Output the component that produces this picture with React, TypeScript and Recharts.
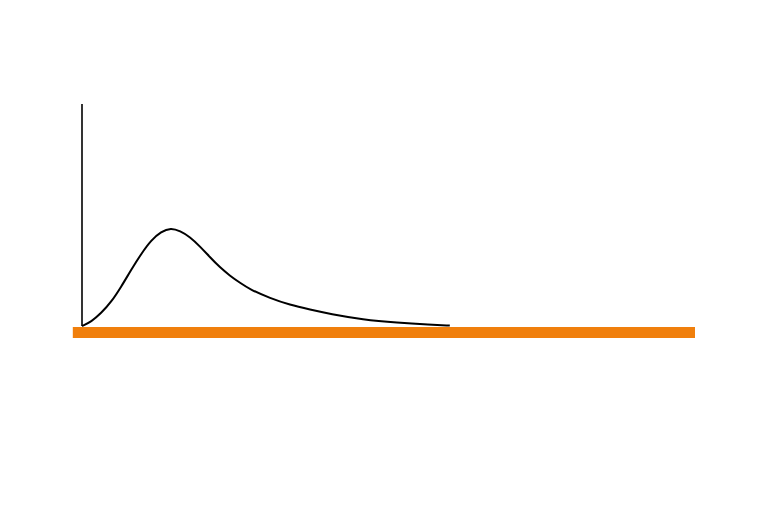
import { LineChart, Line, XAxis, YAxis, ReferenceArea, ReferenceLine } from 'recharts';

// skewed distribution curve, x in arbitrary units, y as % of axis height
const xs = [0, 0.15, 0.31, 0.48, 0.64, 0.8, 0.97, 1.13, 1.29, 1.45, 1.6, 1.76, 1.93, 2.09, 2.25, 2.41, 2.58, 2.74, 3.07, 3.39, 3.72, 4.05, 4.58, 5.14, 5.68, 6.0];
const ys = [0, 1.9, 5.7, 10.9, 17.7, 25.2, 32.7, 38.7, 42.5, 44.2, 42.8, 40.2, 35.7, 30.9, 26.4, 22.7, 19.4, 16.5, 12.5, 9.5, 7.4, 5.4, 2.9, 1.5, 0.6, 0.2];

const data = xs.map((x, i) => ({ x, y: ys[i] }));

const baseStart = -0.15;
const baseEnd = 10;

export default function App() {
  return (
    <div style={{ position: 'absolute', left: 0, top: 0, width: 768, height: 512, background: '#fff' }}>
      <LineChart
        width={768}
        height={512}
        data={data}
        margin={{ top: 104, right: 73, left: 82, bottom: 186 }}
      >
        <XAxis type="number" dataKey="x" domain={[0, 10]} hide />
        <YAxis type="number" domain={[0, 100]} hide />
        <ReferenceLine x={0} stroke="#000" strokeWidth={1.6} />
        <ReferenceArea
          x1={baseStart}
          x2={baseEnd}
          y1={-0.5}
          y2={-5.4}
          ifOverflow="visible"
          fill="#F07F0C"
          fillOpacity={1}
          stroke="none"
        />
        <Line
          type="basis"
          dataKey="y"
          stroke="#000"
          strokeWidth={2}
          dot={false}
          isAnimationActive={false}
        />
      </LineChart>
    </div>
  );
}
